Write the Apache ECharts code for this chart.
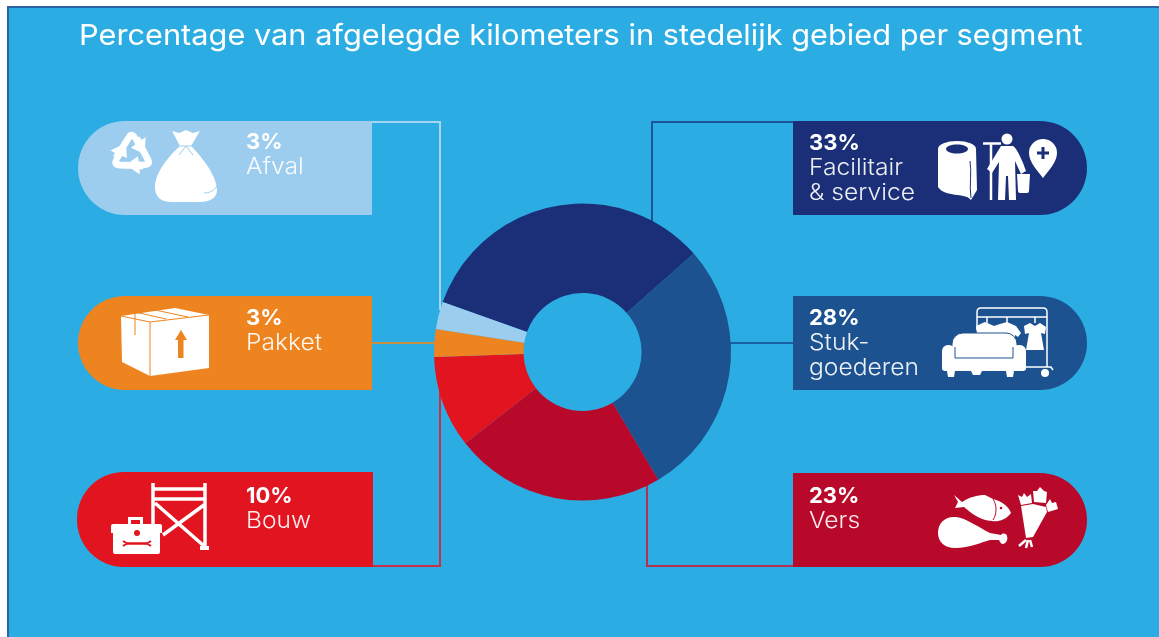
<!DOCTYPE html>
<html>
<head>
<meta charset="utf-8">
<title>Percentage van afgelegde kilometers</title>
<script src="https://cdn.jsdelivr.net/npm/echarts@6/dist/echarts.min.js"></script>
<style>
    html,body{margin:0;padding:0;background:#fff;}
    #main{width:1159px;height:637px;}
</style>
</head>
<body>
<div id="main"></div>
<script>
    var titleText = 'Percentage van afgelegde kilometers in stedelijk gebied per segment';
    // clockwise, starting at the navy slice
    var segments = ['Facilitair & service', 'Stukgoederen', 'Vers', 'Bouw', 'Pakket', 'Afval'];
    var values = [33, 28, 23, 10, 3, 3];
    var colors = ['#1a2f77', '#1d5291', '#b8092b', '#e1141f', '#ee8420', '#9dcdee'];
    var lineColors = ['#1c559b', '#1d5fa5', '#b5304f', '#cb2f45', '#c8913f', '#a5d5f0'];
    var labelLines = [['Facilitair', '& service'], ['Stuk-', 'goederen'], ['Vers'], ['Bouw'], ['Pakket'], ['Afval']];

    var bg = '#2badE3';
    var fontName = 'Inter, "Noto Sans", sans-serif';
    var els = [];
    var shapeCount = 0;

    // graphic has no plain path type, so every icon path gets registered as a shape
    function pathType(d) {
        var name = 'iconPath' + (shapeCount++);
        echarts.graphic.registerShape(name, echarts.graphic.extendPath(d, {}));
        return name;
    }
    function pill(i, x, y, w, h, left) {
        els.push({
            type: 'rect', z: 1,
            shape: {x: x, y: y, width: w, height: h, r: left ? [47, 0, 0, 47] : [0, 47, 47, 0]},
            style: {fill: colors[i]}
        });
    }
    function line(i, pts) {
        els.push({
            type: 'polyline', z: 0,
            shape: {points: pts},
            style: {stroke: lineColors[i], lineWidth: 2, fill: 'none'}
        });
    }
    function label(i, x, y) {
        els.push({
            type: 'text', z: 4, x: x, y: y,
            style: {text: values[i] + '%', fill: '#fff', font: '700 22px ' + fontName, textVerticalAlign: 'middle'}
        });
        for (var n = 0; n < labelLines[i].length; n++) {
            els.push({
                type: 'text', z: 4, x: x, y: y + 25 * (n + 1), scaleX: 1.07,
                style: {text: labelLines[i][n], fill: 'rgba(255,255,255,0.92)', font: '300 23px ' + fontName, textVerticalAlign: 'middle'}
            });
        }
    }
    function icon(d, fill) {
        els.push({type: pathType(d), z: 2, style: {fill: fill || '#fff'}});
    }
    function stroke(d, color, w) {
        els.push({type: pathType(d), z: 3, style: {fill: 'none', stroke: color, lineWidth: w || 1}});
    }

    // blue panel
    els.push({type: 'rect', z: -1, shape: {x: 8, y: 7, width: 1160, height: 640}, style: {fill: bg, stroke: '#2d62a5', lineWidth: 2}});
    els.push({
        type: 'text', z: 4, x: 79, y: 36, scaleX: 1.06,
        style: {text: titleText, fill: '#fff', font: '400 29px ' + fontName, textVerticalAlign: 'middle'}
    });

    // connectors, they run under the donut
    line(5, [[372, 122], [440, 122], [440, 310]]);
    line(4, [[372, 343], [445, 343]]);
    line(3, [[373, 566], [440, 566], [440, 390]]);
    line(0, [[793, 122], [652, 122], [652, 230]]);
    line(1, [[720, 343], [793, 343]]);
    line(2, [[793, 566], [647, 566], [647, 480]]);

    pill(5, 78, 121, 294, 94, true);
    pill(4, 78, 296, 294, 94, true);
    pill(3, 77, 472, 296, 95, true);
    pill(0, 793, 121, 294, 94, false);
    pill(1, 793, 296, 294, 94, false);
    pill(2, 793, 473, 294, 94, false);

    label(5, 246, 142);
    label(4, 246, 318);
    label(3, 246, 496);
    label(0, 809, 143);
    label(1, 809, 318);
    label(2, 809, 496);

    // recycle arrows
    var arrowType = pathType('M-18,2 L-6,-17 Q-3,-22 1,-21 Q4,-20 6,-16 L8,-13 L13,-16 L12,0 L-1,-6 L3,-9 L1,-13 Q0,-15 -1,-13 L-12,5 Z');
    for (var a = 0; a < 3; a++) {
        els.push({
            type: arrowType, z: 2, x: 132, y: 154, scaleX: 1.05, scaleY: 1.05, rotation: a * Math.PI * 2 / 3,
            style: {fill: '#fff'}
        });
    }
    // bag
    icon('M172,131 L179,133 L186,130 L193,133 L200,131 L191,146 C200,155 217,175 217,190 C217,198 210,202 200,202 L172,202 C160,202 155,196 155,187 C155,172 170,155 180,146 Z');
    stroke('M179,155 L186,146 L193,155 M180,146 L191,146', colors[5], 1);
    stroke('M204,193 C209,193 214,191 217,186', colors[5], 1);

    // box
    icon('M121,316 L175,308 L209,315 L209,368 L150,376 L122,362 Z');
    stroke('M121,316 L150,322 L209,315 M150,322 L150,376 M135,312 L166,319 M135,312 L135,335 M155,310 L188,317', colors[4], 1);
    icon('M181,330 L187,340 L183.5,340 L183.5,358 L178,358 L178,340 L175,340 Z', colors[4]);

    // scaffold + toolbox
    stroke('M153,483 L153,530 M205,483 L205,548 M153,489 L205,489 M153,499 L205,499 M155,503 L204,546 M204,505 L163,535', '#fff', 3.5);
    icon('M200,546 L209,546 L209,550 L200,550 Z');
    icon('M111,526 Q111,524 113,524 L128,524 L128,517 L143,517 L143,524 L160,524 Q162,524 162,526 L162,533 L160,533 L160,552 Q160,554 158,554 L115,554 Q113,554 113,552 L113,533 L111,533 Z');
    icon('M131,520 L140,520 L140,524 L131,524 Z', colors[3]);
    stroke('M127,543.5 L147,543.5', colors[3], 2.5);
    stroke('M123,541 L127,543.5 L123,546 M151,541 L147,543.5 L151,546', colors[3], 2);
    els.push({type: 'circle', z: 3, shape: {cx: 137, cy: 533, r: 3}, style: {fill: colors[3]}});

    // paper roll
    icon('M938,149 A19,8 0 0 1 976,149 L977,190 L971,200 C965,192 945,198 938,187 Z');
    els.push({type: 'ellipse', z: 3, shape: {cx: 957, cy: 149, rx: 11, ry: 4.5}, style: {fill: colors[0]}});
    stroke('M970,161 C972,172 969,185 971,198', colors[0], 1);
    // person with mop and bucket
    els.push({type: 'circle', z: 2, shape: {cx: 1007, cy: 139, r: 5.5}, style: {fill: '#fff'}});
    stroke('M991,144 L991,200 M983,143.5 L1001,143.5', '#fff', 2.5);
    icon('M1001,146 L1013,146 C1017,148 1023,162 1026,171 L1021,174 L1015,161 L1016,200 L1009,200 L1008,176 L1006,176 L1005,200 L998,200 L999,162 L992,173 L987,169 Z');
    icon('M1017,174 L1030,174 L1029,191 Q1029,193 1027,193 L1020,193 Q1018,193 1018,191 Z');
    // pin
    icon('M1043,178 C1037,170 1029,162 1029,153 A14,14 0 0 1 1057,153 C1057,162 1049,170 1043,178 Z');
    icon('M1041.5,147 L1044.5,147 L1044.5,151.5 L1049,151.5 L1049,154.5 L1044.5,154.5 L1044.5,159 L1041.5,159 L1041.5,154.5 L1037,154.5 L1037,151.5 L1041.5,151.5 Z', colors[0]);

    // clothes rack + sofa
    stroke('M977,330 L977,312 Q977,308 981,308 L1043,308 Q1047,308 1047,312 L1047,367 M1025,367 L1051,367 L1053,370 M977,317 L1047,317', '#fff', 1.5);
    stroke('M987,317 L987,323 M1007,317 L1007,323 M1035,317 L1035,323', '#fff', 1.5);
    icon('M976,326 L985,322 L994,326 L1000,324 L1007,322 L1016,326 L1021,333 L1018,337 L1015,335 L1015,342 L978,342 Z');
    icon('M1024,326 L1030,323 L1035,326 L1040,323 L1046,327 L1045,334 L1041,333 L1044,350 L1026,350 L1029,333 L1025,334 Z');
    els.push({type: 'circle', z: 2, shape: {cx: 1045, cy: 373, r: 4}, style: {fill: '#fff'}});
    els.push({type: 'rect', z: 2, shape: {x: 952, y: 333, width: 65, height: 30, r: 11}, style: {fill: '#fff', stroke: colors[1], lineWidth: 1}});
    els.push({type: 'rect', z: 2, shape: {x: 942, y: 345, width: 13, height: 26, r: 6}, style: {fill: '#fff'}});
    els.push({type: 'rect', z: 2, shape: {x: 1012, y: 345, width: 14, height: 26, r: 6}, style: {fill: '#fff'}});
    els.push({type: 'rect', z: 2, shape: {x: 942, y: 358, width: 84, height: 13, r: 3}, style: {fill: '#fff'}});
    stroke('M955,347 L955,358 L1013,358 L1013,347', colors[1], 1);
    icon('M947,371 L955,371 L954,377 L948,377 Z M971,371 L982,371 L980,375 L973,375 Z M1006,371 L1014,371 L1013,377 L1007,377 Z');

    // fish
    icon('M954,495 L962,502 C970,497 977,495 985,495 L993,499 C1002,501 1009,507 1011,513 C1006,520 998,522 992,521 C980,520 972,514 964,507 L955,508 L958,502 Z');
    stroke('M993,499 C997,505 997,514 993,520', colors[2], 1);
    els.push({type: 'circle', z: 3, shape: {cx: 1001, cy: 508, r: 1.3}, style: {fill: colors[2]}});
    // drumstick
    icon('M938,533 C938,522 946,516 956,517 C966,518 978,527 990,533 L1001,535 C1003,532 1007,534 1007,536 C1008,539 1007,543 1003,544 C1001,544 1000,542 999,540 L990,540 C982,542 970,548 955,548 C945,548 938,542 938,533 Z');
    // bouquet
    icon('M1018,495 L1022,497 L1024,493 L1027,497 L1031,494 L1032,503 L1021,505 Z');
    icon('M1033,491 L1037,491 L1040,487 L1044,491 L1047,492 L1046,503 L1034,502 Z');
    icon('M1046,505 L1050,499 L1052,503 L1056,502 L1058,509 L1048,512 Z');
    icon('M1021,506 L1033,504 L1046,507 L1047,512 L1033,537 L1026,538 Z');
    stroke('M1019,546 L1026,540 M1026,548 L1028,540 M1032,547 L1030,540', '#fff', 2.5);

    var seriesData = [];
    for (var i = 0; i < segments.length; i++) {
        seriesData.push({name: segments[i], value: values[i], itemStyle: {color: colors[i]}});
    }

    var myChart = echarts.init(document.getElementById('main'));
    var option = {
        animation: false,
        backgroundColor: '#fff',
        graphic: {elements: els},
        series: [
            {
                name: 'Kilometers',
                type: 'pie',
                center: [582.5, 352],
                radius: [59, 148.5],
                startAngle: 160.3,
                clockwise: true,
                label: {show: false},
                labelLine: {show: false},
                silent: true,
                data: seriesData
            }
        ]
    };
    myChart.setOption(option);
</script>
</body>
</html>
